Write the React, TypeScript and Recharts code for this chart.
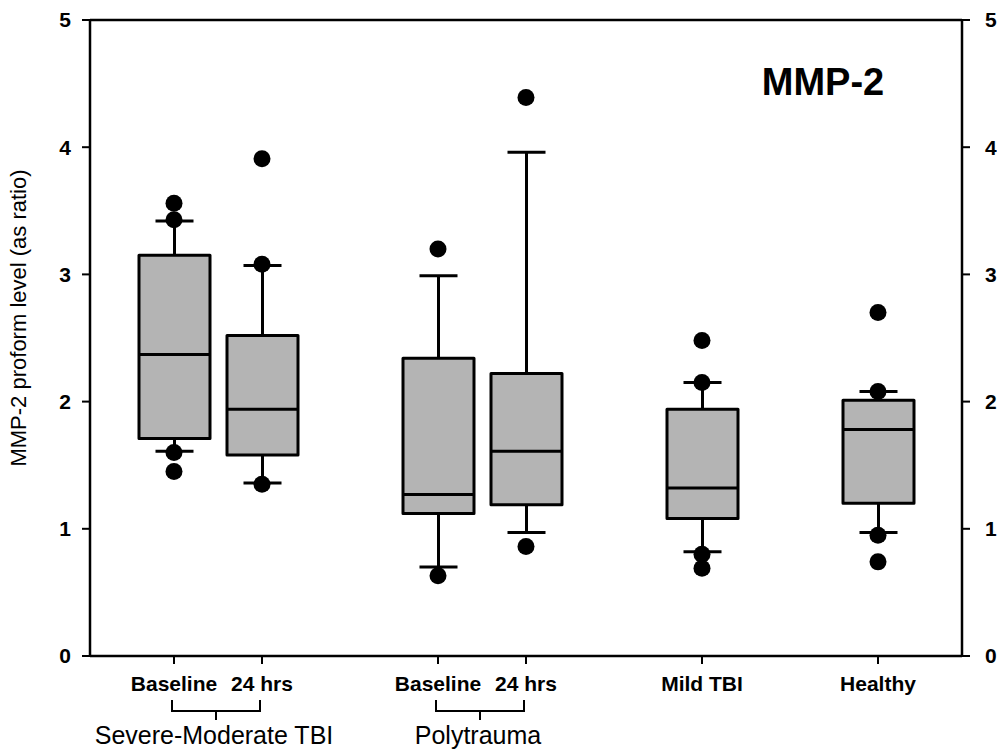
import React from "react";
import { ComposedChart, Bar, Scatter, XAxis, YAxis, ReferenceArea, ReferenceLine } from "recharts";

const categories = ["smBaseline", "sm24", "gapA", "ptBaseline", "pt24", "gapB", "mild", "gapC", "healthy"];
const tickLabels = ["Baseline", "24 hrs", "", "Baseline", "24 hrs", "", "Mild TBI", "", "Healthy"];
const groupStarts = ["smBaseline", "ptBaseline"];
const groupLabels = ["Severe-Moderate TBI", "Polytrauma"];

const whiskerLow = [1.61, 1.36, null, 0.7, 0.97, null, 0.82, null, 0.97];
const q1 = [1.71, 1.58, null, 1.12, 1.19, null, 1.08, null, 1.2];
const median = [2.37, 1.94, null, 1.27, 1.61, null, 1.32, null, 1.78];
const q3 = [3.15, 2.52, null, 2.34, 2.22, null, 1.94, null, 2.01];
const whiskerHigh = [3.42, 3.07, null, 2.99, 3.96, null, 2.15, null, 2.08];
const outliers = [
  [3.56, 3.43, 1.6, 1.45],
  [3.91, 3.08, 1.35],
  [],
  [3.2, 0.63],
  [4.39, 0.86],
  [],
  [2.48, 2.15, 0.8, 0.69],
  [],
  [2.7, 2.08, 0.95, 0.74],
];
const yTicks = [0, 1, 2, 3, 4, 5];

const FONT = "'Liberation Sans', Arial, sans-serif";
const W = 997;
const H = 750;
const M = { top: 20, right: 0, bottom: 0, left: 5 };
const LEFT_W = 85;
const RIGHT_W = 35;
const PAD = 40;
const BAND = (W - M.left - M.right - LEFT_W - RIGHT_W - 2 * PAD) / categories.length;

const rows = categories.map((cat, i) => ({
  cat,
  range: whiskerLow[i] == null ? null : [whiskerLow[i], whiskerHigh[i]],
  q1: q1[i],
  median: median[i],
  q3: q3[i],
}));

const points = categories.flatMap((cat, i) => outliers[i].map((value) => ({ cat, value })));

function BoxShape(props: any) {
  const { x, y, width, height, payload } = props;
  if (!payload || payload.range == null) return null;
  const top = Math.min(y, y + height);
  const bottom = Math.max(y, y + height);
  const [lo, hi] = payload.range;
  const k = (bottom - top) / (hi - lo);
  const py = (v: number) => bottom - (v - lo) * k;
  const cx = x + width / 2;
  const cap = 19;
  const s = { stroke: "#000", strokeWidth: 3 };
  return (
    <g>
      <line x1={cx} x2={cx} y1={py(hi)} y2={py(payload.q3)} {...s} />
      <line x1={cx} x2={cx} y1={py(payload.q1)} y2={py(lo)} {...s} />
      <line x1={cx - cap} x2={cx + cap} y1={py(hi)} y2={py(hi)} {...s} />
      <line x1={cx - cap} x2={cx + cap} y1={py(lo)} y2={py(lo)} {...s} />
      <rect
        x={x}
        y={py(payload.q3)}
        width={width}
        height={py(payload.q1) - py(payload.q3)}
        fill="#b4b4b4"
        {...s}
        strokeLinejoin="round"
      />
      <line x1={x} x2={x + width} y1={py(payload.median)} y2={py(payload.median)} {...s} />
    </g>
  );
}

function Dot(props: any) {
  return <circle cx={props.cx} cy={props.cy} r={8.5} fill="#000" />;
}

function XTick(props: any) {
  const { x, y, payload } = props;
  const i = categories.indexOf(payload.value);
  const label = tickLabels[i];
  if (!label) return null;
  const g = groupStarts.indexOf(payload.value);
  return (
    <g>
      <line x1={x} x2={x} y1={y} y2={y + 8} stroke="#000" strokeWidth={2} />
      <text x={x} y={y + 35} textAnchor="middle" fontSize={21} fontWeight="bold" fontFamily={FONT} fill="#000">
        {label}
      </text>
      {g >= 0 && (
        <g>
          <path
            d={`M${x - 2},${y + 44} V${y + 55} H${x + BAND - 2} V${y + 44}`}
            fill="none"
            stroke="#000"
            strokeWidth={2}
          />
          <line x1={x + BAND / 2 - 2} x2={x + BAND / 2 - 2} y1={y + 55} y2={y + 64} stroke="#000" strokeWidth={2} />
          <text x={x + BAND / 2 - 4} y={y + 88} textAnchor="middle" fontSize={25} fontFamily={FONT} fill="#000">
            {groupLabels[g]}
          </text>
        </g>
      )}
    </g>
  );
}

const tickStyle = { fontSize: 21, fontWeight: "bold", fill: "#000", fontFamily: FONT };

export default function App() {
  return (
    <div style={{ position: "absolute", left: 0, top: 0, width: W, height: H, background: "#fff" }}>
      <ComposedChart width={W} height={H} data={rows} margin={M}>
        <XAxis
          dataKey="cat"
          type="category"
          allowDuplicatedCategory={false}
          padding={{ left: PAD, right: PAD }}
          height={H - 656 - M.bottom}
          axisLine={{ stroke: "#000", strokeWidth: 2.5 }}
          tickLine={false}
          tickSize={0}
          tickMargin={0}
          interval={0}
          tick={<XTick />}
        />
        <YAxis
          yAxisId="left"
          type="number"
          domain={[0, 5]}
          ticks={yTicks}
          width={LEFT_W}
          axisLine={{ stroke: "#000", strokeWidth: 2.5 }}
          tickSize={8}
          tickMargin={11}
          tickLine={{ stroke: "#000", strokeWidth: 2 }}
          tick={tickStyle}
          label={(p: any) => {
            const vb = p.viewBox;
            const cx = 26;
            const cy = vb.y + vb.height / 2 - 20;
            return (
              <text
                x={cx}
                y={cy}
                transform={`rotate(-90 ${cx} ${cy})`}
                textAnchor="middle"
                fontSize={22}
                fontFamily={FONT}
                fill="#000"
              >
                MMP-2 proform level (as ratio)
              </text>
            );
          }}
        />
        <YAxis
          yAxisId="right"
          orientation="right"
          type="number"
          domain={[0, 5]}
          ticks={yTicks}
          width={RIGHT_W}
          axisLine={{ stroke: "#000", strokeWidth: 2.5 }}
          tickSize={8}
          tickMargin={15}
          tickLine={{ stroke: "#000", strokeWidth: 2 }}
          tick={tickStyle}
        />
        <ReferenceLine yAxisId="right" y={5} stroke="#000" strokeWidth={2.5} />
        <ReferenceArea
          yAxisId="right"
          y1={0}
          y2={5}
          fill="none"
          fillOpacity={0}
          stroke="none"
          label={(p: any) => {
            const vb = p.viewBox;
            return (
              <text
                x={vb.x + vb.width - 99}
                y={vb.y + 75}
                textAnchor="middle"
                fontSize={38}
                fontWeight="bold"
                fontFamily={FONT}
                fill="#000"
              >
                MMP-2
              </text>
            );
          }}
        />
        <Bar yAxisId="left" dataKey="range" barSize={71} shape={<BoxShape />} isAnimationActive={false} />
        <Scatter yAxisId="right" data={points} dataKey="value" shape={<Dot />} isAnimationActive={false} />
      </ComposedChart>
    </div>
  );
}
